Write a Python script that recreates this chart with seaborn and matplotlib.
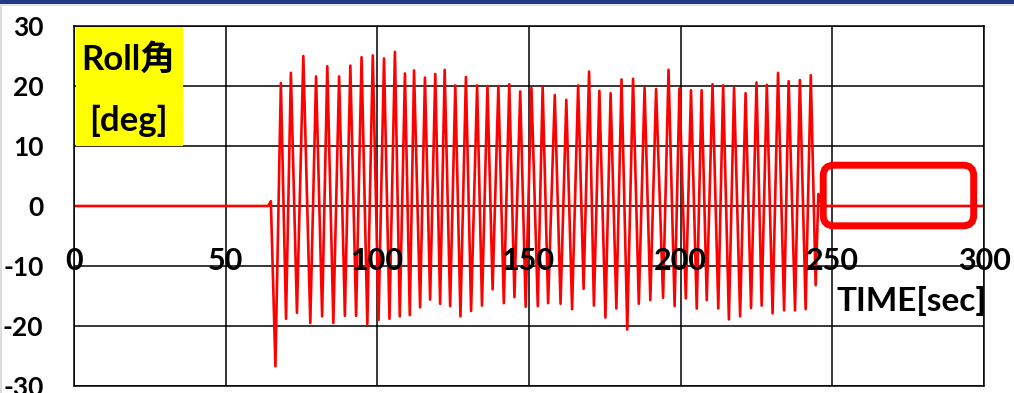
import matplotlib
matplotlib.use("Agg")
import matplotlib.pyplot as plt
import pandas as pd
import seaborn as sns
from matplotlib.patches import FancyBboxPatch, Rectangle

# Roll angle record: turning points of the oscillation (time in s, angle in deg)
time_s = [0.0, 64.0, 64.9, 66.4, 68.2, 69.9, 71.5, 73.5, 75.6, 77.9, 79.8,
          81.8, 83.5, 85.5, 87.4, 89.3, 91.1, 93.0, 94.8, 96.7, 98.5,
          100.4, 102.2, 104.0, 105.8, 107.4, 109.1, 110.7, 112.1, 114.1, 115.7,
          117.4, 119.1, 120.7, 122.2, 124.0, 125.7, 127.4, 129.2, 130.9, 132.9,
          134.5, 136.3, 138.0, 139.9, 141.7, 143.5, 145.2, 147.1, 148.9, 150.8,
          152.9, 154.5, 156.3, 158.5, 160.4, 162.3, 164.2, 166.2, 168.0, 169.8,
          171.4, 173.2, 175.2, 176.9, 178.8, 180.5, 182.4, 184.3, 186.2, 188.1,
          190.0, 191.9, 194.2, 196.0, 198.0, 199.6, 201.7, 203.4, 205.3, 206.9,
          208.6, 210.5, 212.4, 214.0, 215.9, 217.6, 219.6, 221.4, 223.2, 225.0,
          226.7, 228.4, 230.3, 232.1, 234.1, 235.6, 237.7, 239.3, 241.2, 242.9,
          244.5, 245.4, 246.6, 300.0]
roll_deg = [0.0, 0.0, 0.8, -26.7, 20.5, -18.8, 22.2, -17.8, 25.0, -19.5, 21.6,
            -18.4, 23.3, -19.5, 21.6, -18.3, 23.4, -18.3, 24.8, -19.7, 25.1,
            -19.0, 24.6, -18.8, 25.7, -18.4, 22.1, -18.2, 22.6, -16.9, 21.4,
            -15.6, 22.0, -16.3, 22.7, -16.7, 20.1, -18.4, 21.5, -17.5, 20.1,
            -16.6, 20.0, -13.9, 20.0, -16.2, 20.3, -15.2, 19.1, -16.8, 19.7,
            -16.7, 19.8, -16.2, 18.5, -16.3, 17.7, -17.2, 20.1, -13.8, 22.4,
            -16.6, 19.2, -18.6, 18.8, -17.1, 21.1, -20.6, 21.2, -16.3, 19.7,
            -15.7, 19.5, -15.3, 22.7, -16.7, 19.6, -15.4, 19.3, -17.1, 19.3,
            -15.7, 20.3, -17.1, 20.1, -18.9, 19.7, -18.4, 18.8, -17.0, 20.6,
            -16.6, 20.2, -17.9, 22.2, -17.4, 20.8, -17.4, 21.0, -17.2, 21.8,
            -13.2, 2.0, 0.0, 0.0]

x_ticks = [0, 50, 100, 150, 200, 250, 300]
y_ticks = [-30, -20, -10, 0, 10, 20, 30]

sns.set_style("white")
plt.rcParams["font.family"] = ["Lato", "Noto Sans CJK JP", "DejaVu Sans"]
plt.rcParams["font.weight"] = "bold"

W, H = 1014, 393
fig = plt.figure(figsize=(W / 100, H / 100), dpi=100)
fig.patch.set_facecolor("white")

# slide frame: dark band on top, light edges
fig.add_artist(Rectangle((0, 1 - 6 / H), 1, 2.5 / H, transform=fig.transFigure,
                         color="#E3E3E6", lw=0))
fig.add_artist(Rectangle((0, 1 - 3.5 / H), 1, 3.5 / H, transform=fig.transFigure,
                         color="#1F3A85", lw=0))
fig.add_artist(Rectangle((0, 0), 2 / W, 1 - 6 / H, transform=fig.transFigure,
                         color="#DCDCDC", lw=0))

rect = [74 / W, 7 / H, 910 / W, 360 / H]
ax = fig.add_axes(rect)
ax.set_axisbelow(True)

df = pd.DataFrame({"TIME": time_s, "Roll": roll_deg})
sns.lineplot(data=df, x="TIME", y="Roll", ax=ax, color="#FF0000",
             linewidth=1.9, solid_joinstyle="round", zorder=2)

ax.set_xlim(0, 300)
ax.set_ylim(-30, 30)
ax.set_xticks(x_ticks)
ax.set_yticks(y_ticks)
ax.set_yticklabels([str(v) for v in y_ticks])
ax.tick_params(axis="x", labelbottom=False, length=0)
ax.set_xlabel("")
ax.set_ylabel("")
ax.grid(True, color="black", linewidth=1.1)

for side in ["left", "top", "right"]:
    ax.spines[side].set_color("black")
    ax.spines[side].set_linewidth(1.1)
    ax.spines[side].set_visible(True)
ax.spines["bottom"].set_visible(False)
ax.axhline(-30, color="black", linewidth=1.1, clip_on=False, zorder=1)

ax.tick_params(axis="y", length=0, labelsize=19, pad=22, colors="black")

# category axis labels sit on the zero line, above the trace
axx = fig.add_axes(rect, sharex=ax)
axx.set_ylim(-30, 30)
axx.patch.set_alpha(0)
axx.set_yticks([])
for side in ["left", "top", "right"]:
    axx.spines[side].set_visible(False)
axx.spines["bottom"].set_position(("data", 0))
axx.spines["bottom"].set_visible(False)
axx.set_xticks(x_ticks)
axx.set_xticklabels([str(v) for v in x_ticks])
axx.tick_params(axis="x", length=0, labelsize=22, pad=29.5, colors="black")
axx.grid(False)

axx.text(1.003, 0.236, "TIME[sec]", transform=axx.transAxes, ha="right",
         va="center", fontsize=24, fontweight="bold", color="black")

# unit label box
axx.add_patch(Rectangle((0.002, 0.667), 0.118, 0.33, transform=axx.transAxes,
                        facecolor="#FFFF00", edgecolor="none", zorder=3))
axx.text(0.06, 0.906, "Roll角", transform=axx.transAxes, ha="center",
         va="center", fontsize=25, fontweight="bold", color="black", zorder=4)
axx.text(0.06, 0.736, "[deg]", transform=axx.transAxes, ha="center",
         va="center", fontsize=25, fontweight="bold", color="black", zorder=4)

# highlight of the settled region after the oscillation stops
axx.add_patch(FancyBboxPatch((247.0, -3.3), 49.6, 10.1,
                             boxstyle="round,pad=0,rounding_size=3.5",
                             mutation_aspect=0.5, fill=False,
                             edgecolor="#FF0000", linewidth=5.0,
                             clip_on=False, zorder=5))

fig.savefig("out.png", dpi=100, facecolor="white")
